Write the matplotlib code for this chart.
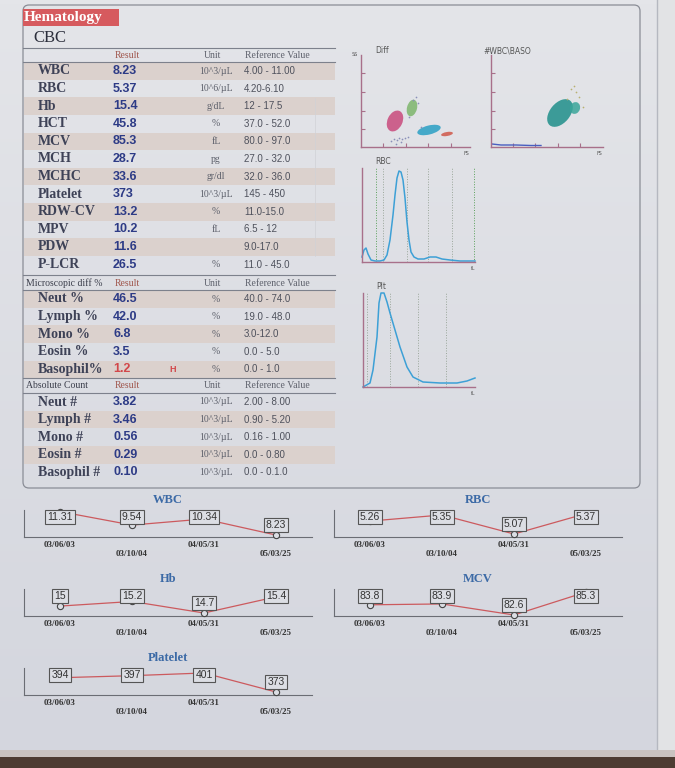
import matplotlib.pyplot as plt
import numpy as np
from matplotlib.patches import Rectangle, FancyBboxPatch, Ellipse
from matplotlib.colors import LinearSegmentedColormap

W, H = 675, 768

# ---- table data ----
cbc_names = ['WBC', 'RBC', 'Hb', 'HCT', 'MCV', 'MCH', 'MCHC', 'Platelet',
             'RDW-CV', 'MPV', 'PDW', 'P-LCR']
cbc_results = ['8.23', '5.37', '15.4', '45.8', '85.3', '28.7', '33.6', '373',
               '13.2', '10.2', '11.6', '26.5']
cbc_units = ['10^3/µL', '10^6/µL', 'g/dL', '%', 'fL', 'pg', 'gr/dl', '10^3/µL',
             '%', 'fL', '', '%']
cbc_refs = ['4.00 - 11.00', '4.20-6.10', '12 - 17.5', '37.0 - 52.0', '80.0 - 97.0',
            '27.0 - 32.0', '32.0 - 36.0', '145 - 450', '11.0-15.0', '6.5 - 12',
            '9.0-17.0', '11.0 - 45.0']

diff_names = ['Neut %', 'Lymph %', 'Mono %', 'Eosin %', 'Basophil%']
diff_results = ['46.5', '42.0', '6.8', '3.5', '1.2']
diff_flags = ['', '', '', '', 'H']
diff_units = ['%', '%', '%', '%', '%']
diff_refs = ['40.0 - 74.0', '19.0 - 48.0', '3.0-12.0', '0.0 - 5.0', '0.0 - 1.0']

abs_names = ['Neut #', 'Lymph #', 'Mono #', 'Eosin #', 'Basophil #']
abs_results = ['3.82', '3.46', '0.56', '0.29', '0.10']
abs_units = ['10^3/µL', '10^3/µL', '10^3/µL', '10^3/µL', '10^3/µL']
abs_refs = ['2.00 - 8.00', '0.90 - 5.20', '0.16 - 1.00', '0.0 - 0.80', '0.0 - 0.1.0']

# ---- history data ----
trend_dates = ['03/06/03', '03/10/04', '04/05/31', '05/03/25']
wbc_hist = [11.31, 9.54, 10.34, 8.23]
rbc_hist = [5.26, 5.35, 5.07, 5.37]
hb_hist = [15, 15.2, 14.7, 15.4]
mcv_hist = [83.8, 83.9, 82.6, 85.3]
plt_hist = [394, 397, 401, 373]

# ---- histograms (channel / count) ----
rbc_curve_x = [0, 2, 4, 6, 9, 13, 18, 22, 25, 28, 31, 33, 35, 37, 39, 41, 43, 45,
               47, 49, 52, 56, 62, 68, 74, 80, 88, 98, 113]
rbc_curve_y = [5, 12, 14, 8, 2, 1, 1, 2, 7, 22, 47, 67, 84, 91, 90, 82, 64, 40,
               22, 10, 5, 3, 3, 5, 5, 3, 2, 1, 1]
rbc_marks = [14, 21, 45, 66, 90, 112]

plt_curve_x = [0, 7, 10, 14, 16, 18, 21, 24, 27, 32, 37, 44, 50, 60, 77, 94, 104, 112]
plt_curve_y = [0, 4, 17, 50, 84, 94, 94, 85, 74, 57, 40, 20, 10, 5, 4, 4, 6, 9]
plt_marks = [4, 27, 55, 83]

# ---- scatter clusters (centre x, centre y, width, height, angle, colour) ----
diff_cx = [34, 51, 68, 86]
diff_cy = [26, 39, 17, 13]
diff_w = [22, 17, 24, 12]
diff_h = [15, 10, 9, 4]
diff_ang = [65, 75, 14, 10]
diff_col = ['#c94a7c', '#7db66c', '#2a9fc4', '#d0584a']
diff_dots_x = [30, 33, 36, 38, 41, 44, 47, 35, 40, 52, 55, 48, 57, 60]
diff_dots_y = [6, 8, 7, 9, 8, 9, 10, 3, 5, 47, 50, 30, 44, 20]

baso_cx = [69, 84]
baso_cy = [34, 39]
baso_w = [32, 12]
baso_h = [20, 10]
baso_ang = [50, 70]
baso_col = ['#1f8f8a', '#3aa59a']
baso_line_x = [1, 10, 25, 40, 50]
baso_line_y = [3, 2, 2, 1.5, 1.5]
baso_dots_x = [80, 83, 85, 88, 76, 92]
baso_dots_y = [58, 61, 55, 50, 48, 40]

paper = '#dcdee4'
fig = plt.figure(figsize=(W / 100, H / 100), dpi=100)
fig.patch.set_facecolor(paper)

bg = fig.add_axes([0, 0, 1, 1])
bg.set_xlim(0, W)
bg.set_ylim(H, 0)
bg.axis('off')

grad = np.linspace(0, 1, 200).reshape(-1, 1)
pcmap = LinearSegmentedColormap.from_list('paper', ['#e4e5e9', '#d4d6de'])
bg.imshow(grad, extent=[0, 657, 750, 0], aspect='auto', cmap=pcmap, zorder=0)
bg.add_patch(Rectangle((657, 0), 18, 768, fc='#e2e3e5', ec='none', zorder=0))
bg.plot([657, 657], [0, 750], color='#b5b8c0', lw=1, zorder=1)
bg.add_patch(Rectangle((0, 750), 675, 7, fc='#c9c3c0', ec='none', zorder=1))
bg.add_patch(Rectangle((0, 757), 675, 11, fc='#4d3c32', ec='none', zorder=1))

bg.add_patch(FancyBboxPatch((23, 5), 617, 483, boxstyle='round,pad=0,rounding_size=6',
                            fc='none', ec='#8a8d96', lw=0.9, zorder=2))

serif = 'Liberation Serif'
sans = 'Liberation Sans'
name_col = '#3e4257'
res_col = '#2d3b86'
grey = '#5d606b'
stripe = '#dbd1cd'
line_col = '#7d818c'

bg.add_patch(Rectangle((23, 9), 96, 17, fc='#d65a5e', ec='none', zorder=2))
bg.text(24, 18, 'Hematology', family=serif, fontsize=11, fontweight='bold',
        color='white', va='center', zorder=3)
bg.text(33, 38, 'CBC', family=serif, fontsize=12, color='#2c2f3c', va='center')

ROW = 17.6


def header(y, label):
    if label:
        bg.text(26, y, label, family=serif, fontsize=7, color='#3c3f4c', va='center')
    bg.text(115, y, 'Result', family=serif, fontsize=7, color='#a0564c', va='center')
    bg.text(213, y, 'Unit', family=serif, fontsize=7, color=grey, va='center', ha='center')
    bg.text(245, y, 'Reference Value', family=serif, fontsize=7, color=grey, va='center')


def rows(y0, names, results, units, refs, flags=None, stripe_from=0):
    for i, name in enumerate(names):
        y = y0 + i * ROW
        if i % 2 == stripe_from:
            bg.add_patch(Rectangle((24, y - ROW / 2), 311, ROW, fc=stripe, ec='none', zorder=1))
        bg.text(38, y, name, family=serif, fontsize=10, fontweight='bold',
                color=name_col, va='center', zorder=3)
        flagged = flags is not None and flags[i]
        bg.text(113, y, results[i], family=sans, fontsize=9, fontweight='bold',
                color='#d2474a' if flagged else res_col, va='center', zorder=3)
        if flagged:
            bg.text(173, y, flags[i], family=sans, fontsize=6.5, fontweight='bold',
                    color='#d2474a', va='center', ha='center', zorder=3)
        bg.text(216, y, units[i], family=serif, fontsize=7, color=grey,
                va='center', ha='center', zorder=3)
        bg.text(244, y, refs[i], family=sans, fontsize=7, color='#4e515c',
                va='center', zorder=3)


bg.plot([23, 335], [48, 48], color=line_col, lw=0.8)
bg.plot([23, 335], [62, 62], color=line_col, lw=0.8)
header(55, '')
rows(71, cbc_names, cbc_results, cbc_units, cbc_refs)
bg.plot([315, 315], [98, 256], color='#d0d1d6', lw=0.5, zorder=2)

bg.plot([23, 335], [275, 275], color=line_col, lw=0.8)
bg.plot([23, 335], [290, 290], color=line_col, lw=0.8)
header(283, 'Microscopic diff %')
rows(299, diff_names, diff_results, diff_units, diff_refs, diff_flags)

bg.plot([23, 335], [378, 378], color=line_col, lw=0.8)
bg.plot([23, 335], [393, 393], color=line_col, lw=0.8)
header(386, 'Absolute Count')
rows(402, abs_names, abs_results, abs_units, abs_refs, stripe_from=1)


def px_axes(x0, y0, x1, y1):
    ax = fig.add_axes([x0 / W, 1 - y1 / H, (x1 - x0) / W, (y1 - y0) / H])
    ax.set_facecolor('none')
    return ax


spine_col = '#a8708a'


def instrument_axes(ax, xmax, ymax, ticks=None):
    ax.set_xlim(0, xmax)
    ax.set_ylim(0, ymax)
    for s in ['top', 'right']:
        ax.spines[s].set_visible(False)
    for s in ['left', 'bottom']:
        ax.spines[s].set_color(spine_col)
        ax.spines[s].set_linewidth(1.0)
    if ticks:
        ax.set_xticks(ticks[0])
        ax.set_yticks(ticks[1])
        ax.tick_params(direction='in', length=3, color=spine_col, labelbottom=False,
                       labelleft=False)
    else:
        ax.set_xticks([])
        ax.set_yticks([])


# scatter: Diff
ax = px_axes(361, 55, 470, 147)
instrument_axes(ax, 109, 92, ([22, 45, 67, 90], [18, 36, 55, 74]))
for cx, cy, w, h, a, c in zip(diff_cx, diff_cy, diff_w, diff_h, diff_ang, diff_col):
    ax.add_patch(Ellipse((cx, cy), w, h, angle=a, fc=c, ec='none', alpha=0.85))
ax.scatter(diff_dots_x, diff_dots_y, s=1.5, color='#8a90b8', lw=0)
ax.text(14, 92, 'Diff', family='DejaVu Sans', fontsize=5.5, color='#555', va='bottom')
ax.text(-3, 92, 'SS', family='DejaVu Sans', fontsize=3.5, color='#555', ha='right', va='center')
ax.text(108, -4, 'FS', family='DejaVu Sans', fontsize=3.5, color='#555', ha='right', va='top')

# scatter: WBC\BASO
ax = px_axes(491, 55, 603, 147)
instrument_axes(ax, 112, 92, ([22, 44, 67, 89], [18, 36, 55, 74]))
for cx, cy, w, h, a, c in zip(baso_cx, baso_cy, baso_w, baso_h, baso_ang, baso_col):
    ax.add_patch(Ellipse((cx, cy), w, h, angle=a, fc=c, ec='none', alpha=0.85))
ax.plot(baso_line_x, baso_line_y, color='#4a5fc0', lw=1.0)
ax.scatter(baso_dots_x, baso_dots_y, s=1.5, color='#b8b070', lw=0)
ax.text(-8, 92, '#WBC\\BASO', family='DejaVu Sans', fontsize=5.5, color='#555', va='bottom')
ax.text(111, -4, 'FS', family='DejaVu Sans', fontsize=3.5, color='#555', ha='right', va='top')


def histogram(box, cx, cy, marks, label):
    x0, y0, x1, y1 = box
    ax = px_axes(x0, y0, x1, y1)
    instrument_axes(ax, x1 - x0, y1 - y0)
    for k, m in enumerate(marks):
        green = label == 'RBC' and k in (0, len(marks) - 1)
        ax.axvline(m, color='#5aa05a' if green else '#9aa69a', lw=0.7, ls=':')
    ax.plot(cx, cy, color='#3da0d6', lw=1.1, clip_on=False)
    ax.text(13, y1 - y0 + 2, label, family='DejaVu Sans', fontsize=5.5, color='#555',
            va='bottom')
    ax.text(x1 - x0, -4, 'fL', family='DejaVu Sans', fontsize=3.5, color='#555',
            ha='right', va='top')


histogram((362, 168, 475, 262), rbc_curve_x, rbc_curve_y, rbc_marks, 'RBC')
histogram((363, 293, 475, 387), plt_curve_x, plt_curve_y, plt_marks, 'Plt')


def trend(x0, base, title, vals, ylim):
    ax = px_axes(x0, base - 27, x0 + 288, base)
    ax.set_xlim(-0.5, 3.5)
    ax.set_ylim(*ylim)
    for s in ['top', 'right']:
        ax.spines[s].set_visible(False)
    for s in ['left', 'bottom']:
        ax.spines[s].set_color('#6b6d74')
        ax.spines[s].set_linewidth(0.8)
    ax.set_xticks([])
    ax.set_yticks([])
    ax.set_title(title, family=serif, fontsize=9, fontweight='bold', color='#3c6aa6', pad=5)
    xs = range(len(vals))
    ax.plot(xs, vals, color='#cc5a5e', lw=0.9, zorder=2, clip_on=False)
    ax.plot(xs, vals, 'o', ms=4.5, mfc=paper, mec='#444', mew=0.8, zorder=3, clip_on=False)
    by = ax.transAxes.transform((0, 0))[1]
    for i, v in enumerate(vals):
        py = ax.transData.transform((i, v))[1]
        dy = min(10, by + 20 - py)
        ax.annotate(f'{v:g}', (i, v), xytext=(0, dy), textcoords='offset pixels',
                    ha='center', va='center', family=sans, fontsize=7.5, color='#333',
                    bbox=dict(boxstyle='square,pad=0.2', fc=paper, ec='#555', lw=0.8),
                    zorder=4, annotation_clip=False)
    for i, d in enumerate(trend_dates):
        ax.annotate(d, (i, 0), xycoords=('data', 'axes fraction'),
                    xytext=(0, -8 - 9 * (i % 2)), textcoords='offset pixels',
                    ha='center', va='center', family=serif, fontsize=6.5,
                    fontweight='bold', color='#333', annotation_clip=False)


trend(24, 537, 'WBC', wbc_hist, (7.97, 11.52))
trend(24, 616, 'Hb', hb_hist, (14.57, 15.74))
trend(24, 695, 'Platelet', plt_hist, (368.6, 408.3))
trend(334, 537, 'RBC', rbc_hist, (5.026, 5.423))
trend(334, 616, 'MCV', mcv_hist, (82.48, 85.66))

fig.savefig('out.png', dpi=100, facecolor=fig.get_facecolor())
